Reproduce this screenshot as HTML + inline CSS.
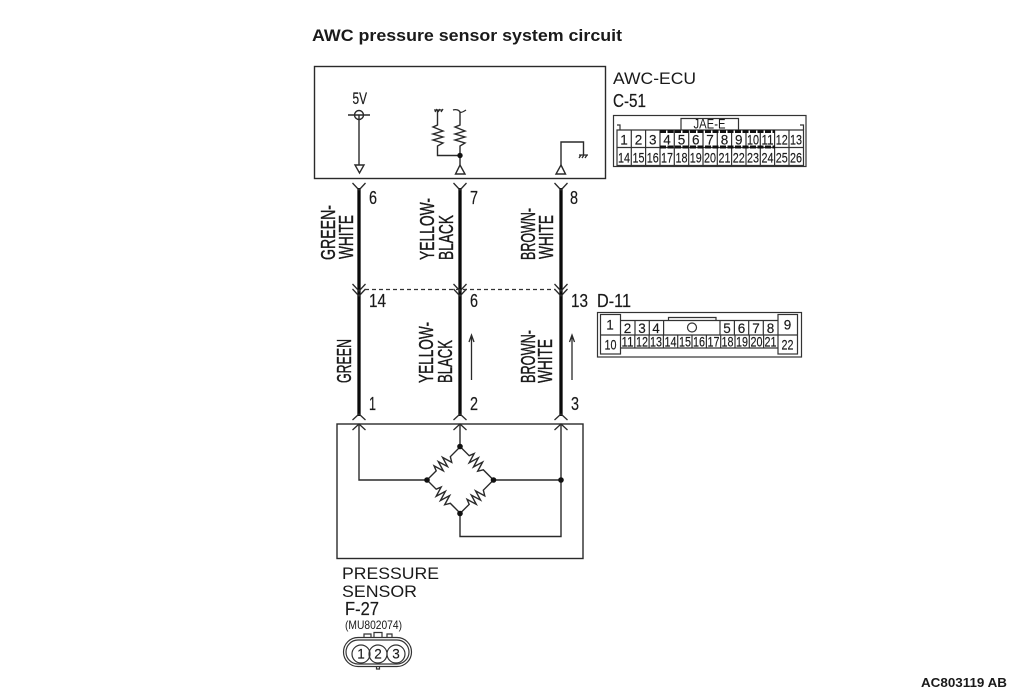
<!DOCTYPE html>
<html>
<head>
<meta charset="utf-8">
<style>
html,body{margin:0;padding:0;background:#fff;width:1010px;height:695px;overflow:hidden}
svg{display:block}
text{font-family:"Liberation Sans",sans-serif;fill:#1a1a1a}
.n{font-size:18.500px;stroke:#1a1a1a;stroke-width:.2}
.v{font-size:20px;stroke:#1a1a1a;stroke-width:.4}
.c{font-size:13.500px;text-anchor:middle;stroke:#1a1a1a;stroke-width:.15}
.l{fill:none;stroke:#2a2a2a;stroke-width:1.400}
.w{stroke:#0a0a0a;stroke-width:3.300;fill:none}
.y{fill:none;stroke:#2a2a2a;stroke-width:1.300}
.b{fill:none;stroke:#333;stroke-width:1.200}
</style>
</head>
<body>
<svg width="1010" height="695" viewBox="0 0 1010 695" xmlns="http://www.w3.org/2000/svg">
<text x="312" y="41" font-size="17" font-weight="bold" textLength="310" lengthAdjust="spacingAndGlyphs">AWC pressure sensor system circuit</text>
<rect x="314.500" y="66.500" width="291" height="112" class="l"/>
<text x="352.500" y="104" font-size="16.500" textLength="14.500" lengthAdjust="spacingAndGlyphs" stroke="#1a1a1a" stroke-width=".2">5V</text>
<circle cx="359" cy="115" r="4.500" class="l"/>
<path d="M348 115H370M359 115V165" class="l"/>
<path d="M355 165H364L359.500 173Z" class="l"/>
<path d="M434 110H442M435 112L437 109M438 112L440 109M441 112L443 109" class="y"/>
<path d="M437.500 110V125L433 127L443 131L433 134L443 137L433 140L443 143L437.500 146V155.500H460" class="l"/>
<path d="M453 110C456 109 459 110 460 112C461 113 463 112 466 110" class="y"/>
<path d="M460 112V125L455 127L465 131L455 134L465 137L455 140L465 143L460 146V165" class="l"/>
<circle cx="460" cy="155.500" r="2.700" fill="#111"/>
<path d="M460 165L465 174H455.500Z" class="l"/>
<path d="M561 165V142H583.500V155" class="l"/>
<path d="M579 155H588M579 158L581 155M582 158L584 155M585 158L587 155" class="y"/>
<path d="M561 165L565.500 174H556Z" class="l"/>

<!-- wires -->
<path d="M359 188V416M460 188V416M561 188V416" class="w"/>
<path d="M352.500 183L359 190L365.500 183M453.500 183L460 190L466.500 183M554.500 183L561 190L567.500 183" class="y"/>
<path d="M352.500 284L359 291L365.500 284M352.500 289L359 296L365.500 289M453.500 284L460 291L466.500 284M453.500 289L460 296L466.500 289M554.500 284L561 291L567.500 284M554.500 289L561 296L567.500 289" class="y"/>
<path d="M365 289.500H555" fill="none" stroke="#333" stroke-width="1.200" stroke-dasharray="4 3"/>
<path d="M352.500 420L359 414L365.500 420M352.500 430L359 424L365.500 430M453.500 420L460 414L466.500 420M453.500 430L460 424L466.500 430M554.500 420L561 414L567.500 420M554.500 430L561 424L567.500 430" class="y"/>

<!-- numbers -->
<text class="n" x="369" y="204" textLength="8" lengthAdjust="spacingAndGlyphs">6</text>
<text class="n" x="470" y="204" textLength="8" lengthAdjust="spacingAndGlyphs">7</text>
<text class="n" x="570" y="204" textLength="8" lengthAdjust="spacingAndGlyphs">8</text>
<text class="n" x="369" y="307" textLength="17" lengthAdjust="spacingAndGlyphs">14</text>
<text class="n" x="470" y="307" textLength="8" lengthAdjust="spacingAndGlyphs">6</text>
<text class="n" x="571" y="307" textLength="17" lengthAdjust="spacingAndGlyphs">13</text>
<text class="n" x="597" y="307" textLength="34" lengthAdjust="spacingAndGlyphs">D-11</text>
<text class="n" x="369" y="410" textLength="7" lengthAdjust="spacingAndGlyphs">1</text>
<text class="n" x="470" y="410" textLength="8" lengthAdjust="spacingAndGlyphs">2</text>
<text class="n" x="571" y="410" textLength="8" lengthAdjust="spacingAndGlyphs">3</text>

<!-- vertical labels -->
<text class="v" transform="translate(335 260) rotate(-90)" textLength="55" lengthAdjust="spacingAndGlyphs">GREEN-</text>
<text class="v" transform="translate(353 259) rotate(-90)" textLength="44" lengthAdjust="spacingAndGlyphs">WHITE</text>
<text class="v" transform="translate(434 260) rotate(-90)" textLength="62" lengthAdjust="spacingAndGlyphs">YELLOW-</text>
<text class="v" transform="translate(453 260) rotate(-90)" textLength="45" lengthAdjust="spacingAndGlyphs">BLACK</text>
<text class="v" transform="translate(535 260) rotate(-90)" textLength="52" lengthAdjust="spacingAndGlyphs">BROWN-</text>
<text class="v" transform="translate(553 259) rotate(-90)" textLength="44" lengthAdjust="spacingAndGlyphs">WHITE</text>
<text class="v" transform="translate(351 383) rotate(-90)" textLength="44" lengthAdjust="spacingAndGlyphs">GREEN</text>
<text class="v" transform="translate(433 383) rotate(-90)" textLength="61" lengthAdjust="spacingAndGlyphs">YELLOW-</text>
<text class="v" transform="translate(452 383) rotate(-90)" textLength="43" lengthAdjust="spacingAndGlyphs">BLACK</text>
<text class="v" transform="translate(535 383) rotate(-90)" textLength="53" lengthAdjust="spacingAndGlyphs">BROWN-</text>
<text class="v" transform="translate(552 383) rotate(-90)" textLength="44" lengthAdjust="spacingAndGlyphs">WHITE</text>

<!-- current arrows -->
<path d="M471.500 380V336M469 342L471.500 335L474 342M572 380V336M569.500 342L572 335L574.500 342" class="y"/>

<!-- sensor -->
<rect x="337" y="424" width="246" height="134.500" class="l"/>
<path d="M359 424V480H427M460 424V446.500M493.500 480H561M561 424V536.500H460V513.500" class="l"/>
<g class="l">
<path transform="translate(427 480) rotate(-45)" d="M0 0H13L15 -5L18 5L21 -5L24 5L27 -5L30 5L33 0H47"/>
<path transform="translate(460 446.500) rotate(45)" d="M0 0H13L15 -5L18 5L21 -5L24 5L27 -5L30 5L33 0H47"/>
<path transform="translate(427 480) rotate(45)" d="M0 0H13L15 -5L18 5L21 -5L24 5L27 -5L30 5L33 0H47"/>
<path transform="translate(460 513.500) rotate(-45)" d="M0 0H13L15 -5L18 5L21 -5L24 5L27 -5L30 5L33 0H47"/>
</g>
<circle cx="460" cy="446.500" r="2.800" fill="#111"/>
<circle cx="427" cy="480" r="2.800" fill="#111"/>
<circle cx="493.500" cy="480" r="2.800" fill="#111"/>
<circle cx="460" cy="513.500" r="2.800" fill="#111"/>
<circle cx="561" cy="480" r="2.800" fill="#111"/>

<!-- sensor text -->
<text x="342" y="579" font-size="17" textLength="97" lengthAdjust="spacingAndGlyphs">PRESSURE</text>
<text x="342" y="597" font-size="17" textLength="75" lengthAdjust="spacingAndGlyphs">SENSOR</text>
<text class="n" x="345" y="615" textLength="34" lengthAdjust="spacingAndGlyphs">F-27</text>
<text x="345" y="629" font-size="12" textLength="57" lengthAdjust="spacingAndGlyphs">(MU802074)</text>
<rect x="343.500" y="637.500" width="68" height="29" rx="14.500" class="b"/>
<rect x="346" y="640" width="63" height="24" rx="12" class="b"/>
<path d="M364 637V634H371V637M374 637V632.500H382V637M387 637V634H392V637M376.500 667V669H379.500V667" class="b"/>
<circle cx="361" cy="654" r="9" class="b" fill="#fff"/>
<circle cx="378" cy="654" r="9" class="b" fill="#fff"/>
<circle cx="396" cy="654" r="9" class="b" fill="#fff"/>
<text class="c" x="361" y="658.500">1</text>
<text class="c" x="378" y="658.500">2</text>
<text class="c" x="396" y="658.500">3</text>

<!-- C-51 -->
<text x="613" y="84" font-size="17" textLength="83" lengthAdjust="spacingAndGlyphs">AWC-ECU</text>
<text class="n" x="613" y="107" textLength="33" lengthAdjust="spacingAndGlyphs">C-51</text>
<rect x="613.500" y="115.500" width="192.500" height="51" class="b"/>
<path d="M617 130V165.500H803.500V130ZM617 147.500H803.500M631.300 130V165.500M645.600 130V165.500M660 130V165.500M674.300 130V165.500M688.700 130V165.500M703 130V165.500M717.300 130V165.500M731.600 130V165.500M746 130V165.500M760.300 130V165.500M774.600 130V165.500M789 130V165.500" class="b"/>
<path d="M681 130V118.500H738.500V130" class="b"/>
<path d="M617 125H620V130M800 125H803.500V130" class="b"/>
<path d="M660 131.500H775M660 147H775" stroke="#111" stroke-width="3" fill="none" stroke-dasharray="6 1.500"/>
<text x="709.500" y="128.500" font-size="14" text-anchor="middle" textLength="32" lengthAdjust="spacingAndGlyphs">JAE-E</text>
<text class="c" x="624" y="144.500">1</text><text class="c" x="638.500" y="144.500">2</text><text class="c" x="652.800" y="144.500">3</text><text class="c" x="667" y="144.500">4</text><text class="c" x="681.500" y="144.500">5</text><text class="c" x="695.800" y="144.500">6</text><text class="c" x="710" y="144.500">7</text><text class="c" x="724.500" y="144.500">8</text><text class="c" x="738.800" y="144.500">9</text>
<text class="c" x="753" y="144.500" textLength="12" lengthAdjust="spacingAndGlyphs">10</text><text class="c" x="767.500" y="144.500" textLength="12" lengthAdjust="spacingAndGlyphs">11</text><text class="c" x="781.800" y="144.500" textLength="12" lengthAdjust="spacingAndGlyphs">12</text><text class="c" x="796" y="144.500" textLength="12" lengthAdjust="spacingAndGlyphs">13</text>
<text class="c" x="624" y="162.500" textLength="12" lengthAdjust="spacingAndGlyphs">14</text><text class="c" x="638.500" y="162.500" textLength="12" lengthAdjust="spacingAndGlyphs">15</text><text class="c" x="652.800" y="162.500" textLength="12" lengthAdjust="spacingAndGlyphs">16</text><text class="c" x="667" y="162.500" textLength="12" lengthAdjust="spacingAndGlyphs">17</text><text class="c" x="681.500" y="162.500" textLength="12" lengthAdjust="spacingAndGlyphs">18</text><text class="c" x="695.800" y="162.500" textLength="12" lengthAdjust="spacingAndGlyphs">19</text><text class="c" x="710" y="162.500" textLength="12" lengthAdjust="spacingAndGlyphs">20</text><text class="c" x="724.500" y="162.500" textLength="12" lengthAdjust="spacingAndGlyphs">21</text><text class="c" x="738.800" y="162.500" textLength="12" lengthAdjust="spacingAndGlyphs">22</text><text class="c" x="753" y="162.500" textLength="12" lengthAdjust="spacingAndGlyphs">23</text><text class="c" x="767.500" y="162.500" textLength="12" lengthAdjust="spacingAndGlyphs">24</text><text class="c" x="781.800" y="162.500" textLength="12" lengthAdjust="spacingAndGlyphs">25</text><text class="c" x="796" y="162.500" textLength="12" lengthAdjust="spacingAndGlyphs">26</text>

<!-- D-11 -->
<rect x="597.500" y="312.500" width="204" height="44.500" class="b"/>
<rect x="600.500" y="314.500" width="20" height="39.500" class="b"/>
<rect x="778" y="314.500" width="19.500" height="39.500" class="b"/>
<path d="M600.500 335H797.500M620.500 320.500H778M620.500 348H778M635 320.500V335M649.300 320.500V335M663.600 320.500V335M720 320.500V335M734.400 320.500V335M748.700 320.500V335M763.300 320.500V335M634.800 335V348M649.100 335V348M663.400 335V348M677.700 335V348M692 335V348M706.400 335V348M720.700 335V348M735 335V348M749.300 335V348M763.600 335V348" class="b"/>
<path d="M668.500 320.500V317.500H716V320.500" class="b"/>
<circle cx="692" cy="327.500" r="4.500" class="b"/>
<text class="c" x="610" y="329.500">1</text><text class="c" x="627.500" y="333">2</text><text class="c" x="642" y="333">3</text><text class="c" x="656" y="333">4</text><text class="c" x="727" y="333">5</text><text class="c" x="741.500" y="333">6</text><text class="c" x="756" y="333">7</text><text class="c" x="770.500" y="333">8</text><text class="c" x="787.500" y="329.500">9</text>
<text class="c" x="610.500" y="349.500" textLength="12" lengthAdjust="spacingAndGlyphs">10</text><text class="c" x="627.500" y="346.500" textLength="12" lengthAdjust="spacingAndGlyphs">11</text><text class="c" x="642" y="346.500" textLength="12" lengthAdjust="spacingAndGlyphs">12</text><text class="c" x="656" y="346.500" textLength="12" lengthAdjust="spacingAndGlyphs">13</text><text class="c" x="670.500" y="346.500" textLength="12" lengthAdjust="spacingAndGlyphs">14</text><text class="c" x="685" y="346.500" textLength="12" lengthAdjust="spacingAndGlyphs">15</text><text class="c" x="699" y="346.500" textLength="12" lengthAdjust="spacingAndGlyphs">16</text><text class="c" x="713.500" y="346.500" textLength="12" lengthAdjust="spacingAndGlyphs">17</text><text class="c" x="727.500" y="346.500" textLength="12" lengthAdjust="spacingAndGlyphs">18</text><text class="c" x="742" y="346.500" textLength="12" lengthAdjust="spacingAndGlyphs">19</text><text class="c" x="756.500" y="346.500" textLength="12" lengthAdjust="spacingAndGlyphs">20</text><text class="c" x="770.500" y="346.500" textLength="12" lengthAdjust="spacingAndGlyphs">21</text><text class="c" x="787.500" y="349.500" textLength="12" lengthAdjust="spacingAndGlyphs">22</text>

<text x="921" y="687" font-size="13" font-weight="bold" textLength="86" lengthAdjust="spacingAndGlyphs">AC803119 AB</text>
</svg>
</body>
</html>
